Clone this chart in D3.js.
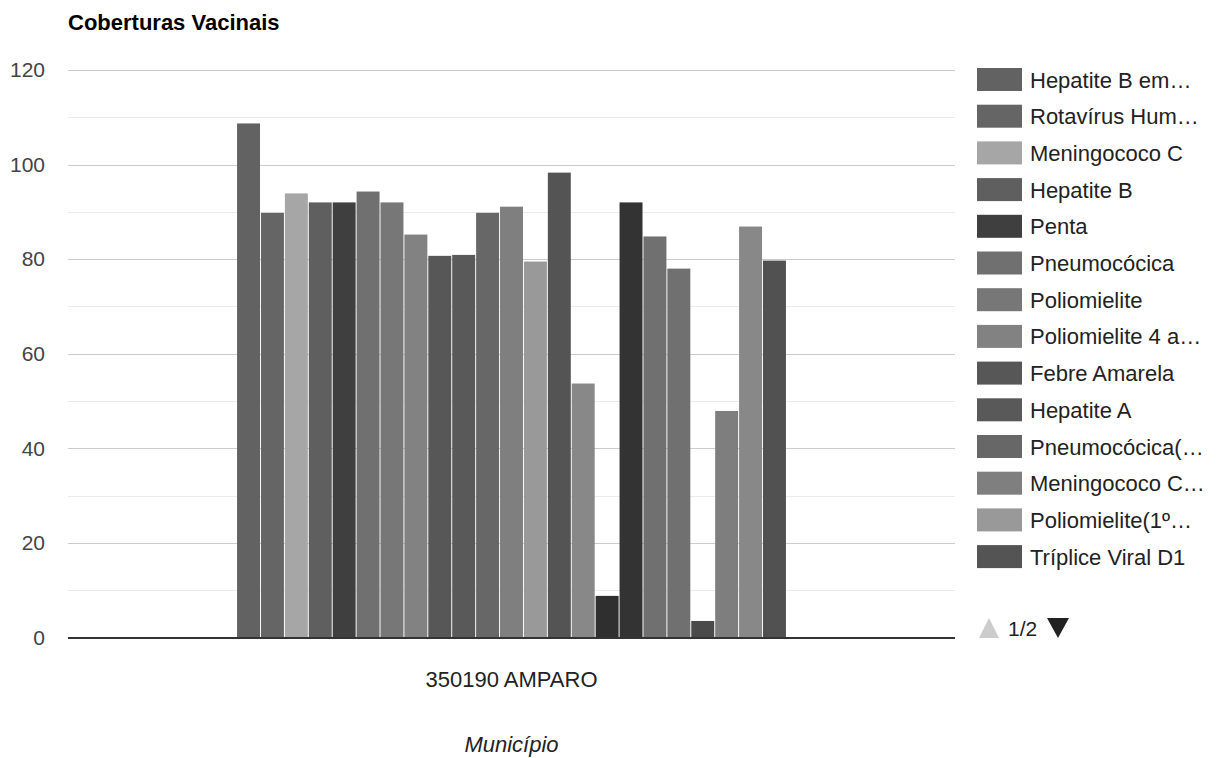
<!DOCTYPE html>
<html>
<head>
<meta charset="utf-8">
<script src="https://cdn.jsdelivr.net/npm/d3@7"></script>
<style>
  body { margin: 0; background: #fff; }
  text { font-family: "Liberation Sans", Arial, sans-serif; }
</style>
</head>
<body>
<div id="chart"></div>
<script>
// chart data
const categories = ["350190 AMPARO"];
const seriesNames = [
    "Hepatite B em crianças até 30 dias", "Rotavírus Humano", "Meningococo C", "Hepatite B",
    "Penta", "Pneumocócica", "Poliomielite", "Poliomielite 4 anos", "Febre Amarela",
    "Hepatite A", "Pneumocócica(1º ref)", "Meningococo C (1º ref)", "Poliomielite(1º ref)",
    "Tríplice Viral D1", "Tríplice Viral D2", "Tetra Viral(SRC+VZ)", "DTP REF (4 e 6 anos)",
    "Tríplice Bacteriana(DTP)(1º ref)", "Dupla adulto e tríplice acelular gestante",
    "dTpa gestante", "Sarampo", "Haemophilus influenzae b", "Tríplice Viral"
];
// legend page 1 of 2, labels as shown (truncated)
const legendLabels = [
    "Hepatite B em…", "Rotavírus Hum…", "Meningococo C", "Hepatite B", "Penta",
    "Pneumocócica", "Poliomielite", "Poliomielite 4 a…", "Febre Amarela", "Hepatite A",
    "Pneumocócica(…", "Meningococo C…", "Poliomielite(1º…", "Tríplice Viral D1"
];
const seriesValues = [
    108.7, 89.8, 93.9, 92.0, 92.0, 94.3, 92.0, 85.2, 80.7, 80.9, 89.8, 91.1,
    79.5, 98.3, 53.7, 8.8, 92.0, 84.8, 78.0, 3.5, 47.9, 86.9, 79.7
];
const seriesColors = [
    "#626262", "#656565", "#a6a6a6", "#5f5f5f", "#3f3f3f", "#707070", "#777777",
    "#828282", "#575757", "#595959", "#676767", "#7f7f7f", "#999999", "#545454",
    "#888888", "#2f2f2f", "#333333", "#707070", "#707070", "#4a4a4a", "#7e7e7e",
    "#888888", "#515151"
];
const yTicks = [0, 20, 40, 60, 80, 100, 120];
const yMinorTicks = [10, 30, 50, 70, 90, 110];

const width = 1218;
const height = 758;
const plot = { left: 68, right: 955, top: 70, bottom: 637.5 };
const labelSize = '22px';

const svg = d3.select('#chart')
    .append('svg')
    .attr('width', width)
    .attr('height', height);

// title
svg.append('text')
    .attr('x', 68)
    .attr('y', 30)
    .style('font-size', '22px')
    .style('font-weight', 'bold')
    .attr('fill', '#000')
    .text('Coberturas Vacinais');

// scales
const yScale = d3.scaleLinear()
    .domain([0, 120])
    .range([plot.bottom, plot.top]);

const x0 = d3.scaleBand()
    .domain(categories)
    .range([plot.left, plot.right])
    .paddingInner(0)
    .paddingOuter(0.308);

const x1 = d3.scaleBand()
    .domain(seriesNames)
    .range([0, x0.bandwidth()])
    .paddingInner(0.04);

// gridlines
svg.append('g')
    .selectAll('line')
    .data(yMinorTicks)
    .enter().append('line')
    .attr('x1', plot.left)
    .attr('x2', plot.right)
    .attr('y1', d => Math.round(yScale(d)) + 0.5)
    .attr('y2', d => Math.round(yScale(d)) + 0.5)
    .attr('stroke', '#ebebeb');

svg.append('g')
    .selectAll('line')
    .data(yTicks.filter(d => d !== 0))
    .enter().append('line')
    .attr('x1', plot.left)
    .attr('x2', plot.right)
    .attr('y1', d => Math.round(yScale(d)) + 0.5)
    .attr('y2', d => Math.round(yScale(d)) + 0.5)
    .attr('stroke', '#cccccc');

// y axis labels
const yAxis = svg.append('g')
    .attr('transform', 'translate(45,0)')
    .call(d3.axisLeft(yScale).tickValues(yTicks).tickSize(0).tickPadding(0));
yAxis.select('.domain').remove();
yAxis.selectAll('text')
    .style('font-size', '21px')
    .attr('fill', '#444')
    .attr('font-family', '"Liberation Sans", Arial, sans-serif');

// bars
const groups = svg.append('g')
    .selectAll('g')
    .data(categories)
    .enter().append('g')
    .attr('transform', d => `translate(${x0(d)},0)`);

groups.selectAll('rect')
    .data(seriesNames.map((name, i) => ({ name: name, value: seriesValues[i], color: seriesColors[i] })))
    .enter().append('rect')
    .attr('x', d => x1(d.name))
    .attr('y', d => yScale(d.value))
    .attr('width', x1.bandwidth())
    .attr('height', d => yScale(0) - yScale(d.value))
    .attr('fill', d => d.color)
    .append('title')
    .text(d => d.name + ': ' + d.value);

// baseline
svg.append('line')
    .attr('x1', plot.left)
    .attr('x2', plot.right)
    .attr('y1', yScale(0) + 0.5)
    .attr('y2', yScale(0) + 0.5)
    .attr('stroke', '#333')
    .attr('stroke-width', 2);

// x axis labels
const xAxis = svg.append('g')
    .attr('transform', `translate(0,${plot.bottom})`)
    .call(d3.axisBottom(x0).tickSize(0).tickPadding(34));
xAxis.select('.domain').remove();
xAxis.selectAll('text')
    .style('font-size', labelSize)
    .attr('fill', '#222')
    .attr('font-family', '"Liberation Sans", Arial, sans-serif');

svg.append('text')
    .attr('x', (plot.left + plot.right) / 2)
    .attr('y', 752)
    .attr('text-anchor', 'middle')
    .style('font-size', labelSize)
    .style('font-style', 'italic')
    .attr('fill', '#222')
    .text('Município');

// legend
const legend = svg.append('g')
    .selectAll('g')
    .data(legendLabels)
    .enter().append('g')
    .attr('transform', (d, i) => `translate(977,${68 + i * 36.7})`);

legend.append('rect')
    .attr('width', 45)
    .attr('height', 23)
    .attr('fill', (d, i) => seriesColors[i]);

legend.append('text')
    .attr('x', 53)
    .attr('y', 19.5)
    .style('font-size', labelSize)
    .attr('fill', '#222')
    .text(d => d);

// pager
svg.append('path')
    .attr('d', 'M979,638 L989,618 L999,638 Z')
    .attr('fill', '#ccc');
svg.append('text')
    .attr('x', 1008)
    .attr('y', 636)
    .style('font-size', '21px')
    .attr('fill', '#222')
    .text('1/2');
svg.append('path')
    .attr('d', 'M1047,618 L1069,618 L1058,638 Z')
    .attr('fill', '#222');
</script>
</body>
</html>
